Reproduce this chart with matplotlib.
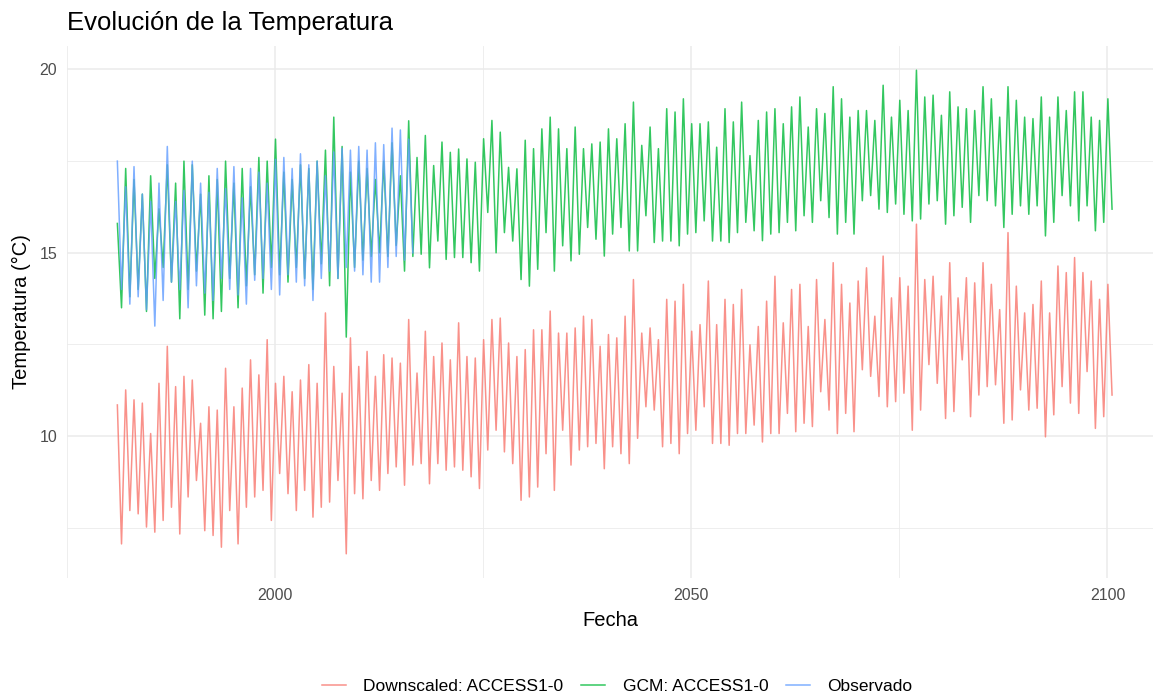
import numpy as np
import matplotlib.pyplot as plt

plt.rcParams['font.family'] = ['Liberation Sans', 'DejaVu Sans']

# annual peaks / troughs
years = np.arange(1981, 2101)
obs_years = np.arange(1981, 2017)

down_max = [10.85, 11.26, 10.99, 10.9, 10.07, 11.44, 12.45, 11.35, 11.63, 11.53,
            10.35, 10.8, 10.71, 11.85, 10.8, 11.31, 12.08, 11.67, 12.63, 11.44,
            11.63, 11.21, 11.53, 11.95, 11.44, 13.36, 11.9, 11.17, 12.68, 11.9,
            12.31, 11.63, 12.22, 12.13, 11.99, 13.18,
            11.72, 12.86, 12.17, 12.54, 12.08, 13.09, 12.17, 12.13, 12.63, 13.18,
            13.22, 12.54, 12.17, 12.36, 12.9, 12.9, 13.41, 12.81, 12.81, 12.95,
            13.27, 13.18, 12.45, 12.77, 12.68, 13.27, 14.27, 12.81, 12.95, 12.63,
            13.73, 13.68, 14.14, 12.86, 13.04, 14.23, 13.04, 13.73, 13.59, 14.0,
            12.49,
            12.99, 13.68, 14.36, 13.09, 14.0, 14.14, 12.99, 14.27, 13.18, 14.73,
            14.14, 13.63, 14.23, 14.59, 13.27, 14.91, 13.77, 14.32, 14.09, 15.78,
            14.27, 14.36, 13.82, 14.73, 13.77, 14.32, 14.18, 14.73, 14.14, 13.45,
            15.55, 14.09, 13.36, 13.59, 14.23, 13.36, 14.64, 14.46, 14.87, 14.46,
            14.23, 13.73, 14.14]
down_min = [7.06, 7.97, 7.88, 7.52, 7.38, 7.7, 8.06, 7.33, 8.34, 8.79,
            7.42, 7.29, 6.97, 7.97, 7.06, 8.06, 8.34, 8.52, 7.7, 8.98,
            8.43, 7.97, 8.52, 7.79, 8.06, 8.2, 8.79, 6.79, 8.43, 8.29,
            8.79, 8.52, 8.98, 9.16, 8.66, 9.21,
            9.25, 8.70, 9.25, 9.07, 9.16, 9.07, 8.89, 8.57, 9.62, 10.16,
            9.57, 9.25, 8.25, 8.34, 8.61, 9.52, 8.52, 10.16, 9.21, 9.62,
            9.71, 9.80, 9.11, 9.71, 9.52, 9.25, 9.94, 10.8, 10.71, 9.71,
            9.80, 9.52, 10.07, 10.16, 10.8, 9.8, 9.8, 9.75, 10.07, 10.07,
            10.3,
            9.84, 10.07, 10.07, 10.62, 10.12, 10.35, 10.26, 11.21, 10.71, 10.07,
            10.62, 10.12, 11.81, 11.63, 11.08, 10.8, 10.94, 11.17, 10.16, 10.71,
            11.95, 11.44, 10.48, 10.67, 12.08, 10.53, 11.12, 11.35, 11.4, 10.35,
            10.44, 11.26, 10.71, 10.76, 9.98, 10.58, 11.35, 10.9, 10.62, 11.76,
            10.21, 10.53, 11.12]

gcm_max = [15.8, 17.3, 17.0, 16.6, 17.1, 16.2, 17.4, 16.9, 17.5, 17.4,
           16.6, 17.1, 17.0, 17.5, 16.9, 17.3, 16.8, 17.6, 17.5, 18.1,
           17.2, 17.0, 17.4, 17.3, 17.5, 17.8, 18.7, 17.9, 17.2, 17.5,
           17.3, 17.0, 17.5, 18.0, 17.1, 18.6,
           17.6, 18.2, 17.38, 18.02, 17.74, 17.83, 17.56, 17.47, 18.11, 18.61,
           18.29, 17.33, 17.29, 18.07, 17.84, 18.38, 18.7, 18.38, 17.84, 18.43,
           17.84, 17.97, 18.02, 18.38, 18.11, 18.52, 19.11, 17.93, 18.43, 17.84,
           18.93, 18.84, 19.2, 18.52, 18.52, 18.57, 17.88, 18.93, 18.57, 19.11,
           17.65,
           18.61, 18.84, 18.93, 18.52, 18.98, 19.25, 18.43, 18.93, 18.8, 19.53,
           19.2, 18.7, 18.88, 18.88, 18.61, 19.57, 18.7, 19.16, 18.88, 19.98,
           19.25, 19.3, 18.75, 19.39, 18.98, 18.93, 18.88, 19.53, 19.2, 18.7,
           19.53, 19.16, 18.7, 18.66, 19.25, 18.7, 19.25, 18.88, 19.39, 19.39,
           18.7, 18.61, 19.2]
gcm_min = [13.5, 13.8, 14.0, 13.4, 14.3, 14.6, 14.2, 13.2, 14.0, 14.5,
           13.3, 13.2, 13.4, 14.3, 13.5, 14.1, 14.4, 13.9, 14.6, 14.4,
           14.2, 14.6, 14.3, 14.0, 14.7, 14.1, 14.3, 12.7, 14.6, 14.8,
           14.9, 15.0, 14.9, 15.2, 14.5, 14.9,
           14.96, 14.59, 15.32, 14.82, 14.87, 14.87, 14.73, 14.5, 16.1, 15.0,
           15.55, 15.32, 14.27, 14.09, 14.55, 15.55, 14.5, 15.19, 14.78, 14.96,
           15.69, 15.37, 14.91, 15.51, 15.69, 15.05, 15.05, 16.01, 15.28, 15.32,
           15.32, 15.19, 15.51, 15.55, 15.87, 15.32, 15.32, 15.28, 15.55, 15.83,
           15.6,
           15.33, 15.51, 15.55, 15.83, 15.6, 16.01, 15.83, 16.42, 15.96, 15.51,
           15.83, 15.51, 16.42, 16.56, 16.19, 16.1, 16.33, 16.05, 15.87, 15.92,
           16.33, 16.42, 15.78, 16.01, 16.24, 15.83, 16.56, 16.42, 16.28, 15.69,
           16.05, 16.28, 16.05, 16.28, 15.46, 15.83, 16.56, 16.28, 15.87, 16.28,
           15.6, 15.83, 16.19]

obs_max = [17.5, 16.8, 17.35, 16.6, 16.4, 16.9, 17.9, 16.4, 16.7, 17.5,
           16.9, 16.65, 17.3, 16.75, 17.35, 16.5, 17.3, 17.2, 16.9, 17.55,
           17.6, 17.3, 17.7, 17.4, 17.5, 17.1, 17.75, 17.85, 17.8, 17.9,
           17.8, 18.0, 17.95, 18.4, 18.35, 18.1]
obs_min = [14.0, 13.6, 13.8, 13.45, 13.0, 13.7, 14.2, 14.0, 13.5, 14.1,
           13.9, 13.7, 14.3, 14.0, 13.85, 13.6, 14.25, 14.3, 14.0, 13.85,
           14.4, 14.2, 14.1, 13.7, 14.3, 14.5, 14.3, 14.6, 14.5, 14.4,
           14.2, 14.2, 14.6, 14.9, 14.8, 15.0]

labels = ['Downscaled: ACCESS1-0', 'GCM: ACCESS1-0', 'Observado']
colors = ['#F8766D', '#00BA38', '#619CFF']


def zigzag(yrs, hi, lo):
    t = np.column_stack([yrs + 0.05, yrs + 0.55]).ravel()
    v = np.column_stack([hi, lo]).ravel()
    return t, v


W, H = 1153, 694
fig = plt.figure(figsize=(W / 100, H / 100), dpi=100)
ax = fig.add_axes([67 / W, 1 - 578 / H, (1153 - 67) / W, (578 - 46) / H])

series = [(years, down_max, down_min), (years, gcm_max, gcm_min),
          (obs_years, obs_max, obs_min)]
for (yy, hi, lo), lab, col in zip(series, labels, colors):
    t, v = zigzag(yy, np.array(hi), np.array(lo))
    ax.plot(t, v, color=col, lw=1.1, alpha=0.8, label=lab)

ax.set_xlim(1975.2, 2105.47)
ax.set_ylim(6.13, 20.64)
ax.set_xticks([2000, 2050, 2100])
ax.set_xticks([1975, 2025, 2075], minor=True)
ax.set_yticks([10, 15, 20])
ax.set_yticks([7.5, 12.5, 17.5], minor=True)
ax.grid(which='major', color='#EBEBEB', lw=1.1)
ax.grid(which='minor', color='#EBEBEB', lw=0.6)
ax.set_axisbelow(True)
for s in ax.spines.values():
    s.set_visible(False)
ax.tick_params(which='both', length=0, labelsize=11.5, labelcolor='#4D4D4D', pad=7)

ax.set_xlabel('Fecha', fontsize=14.5, labelpad=6)
ax.set_ylabel('Temperatura (°C)', fontsize=14.5, labelpad=6)
fig.text(67 / W, 1 - 23 / H, 'Evolución de la Temperatura', fontsize=18.5,
         ha='left', va='center')

fig.legend(loc='center', bbox_to_anchor=(617 / W, 1 - 686 / H), ncol=3,
           frameon=False, fontsize=12.5, handlelength=1.4, handletextpad=1.0,
           columnspacing=1.0)

fig.savefig('out.png', dpi=100)
